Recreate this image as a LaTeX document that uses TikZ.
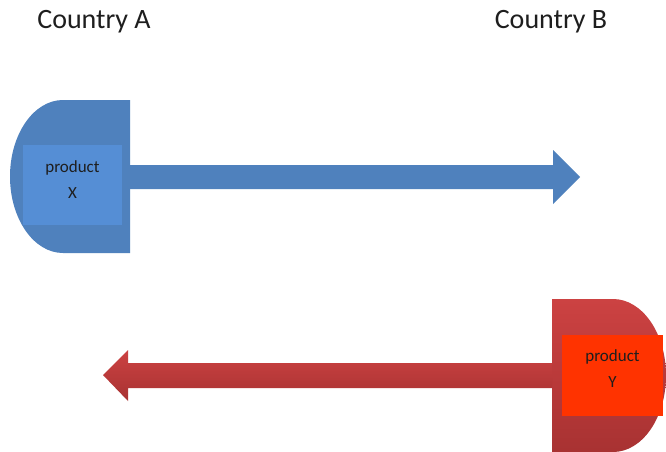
\documentclass[tikz,border=0pt]{standalone}
\usepackage{fontspec}
\setmainfont{Carlito}
\usetikzlibrary{calc}
\definecolor{bluedark}{HTML}{4F81BD}
\definecolor{bluelight}{HTML}{558ED5}
\definecolor{redtop}{HTML}{CC4242}
\definecolor{redbot}{HTML}{A83232}
\definecolor{redin}{HTML}{FF3300}
\definecolor{txt}{HTML}{1E1E1E}
\begin{document}
\begin{tikzpicture}[x=1pt,y=-1pt,
  title/.style={font=\fontsize{28}{30}\selectfont, text=txt, inner sep=0pt},
  prodbox/.style={inner sep=0pt, align=center, font=\fontsize{17}{26}\selectfont, text=txt},
  bluefill/.style={fill=bluedark},
  redfill/.style={top color=redtop, bottom color=redbot}]
\useasboundingbox (0,0) rectangle (666,452);
\fill[white] (0,0) rectangle (666,452);
% titles
\node[title] (cA) at (94,22) {Country A};
\node[title] (cB) at (551,22) {Country B};
% Country A shape
\path[bluefill] (130,100) -- (63,100) arc[start angle=-90, end angle=-270, x radius=53, y radius=76.5] -- (130,253) -- cycle;
\node[prodbox, fill=bluelight, minimum width=99pt, minimum height=80pt] (prodX) at (72.5,185) {};
\node[prodbox] (lblX) at (72.5,180) {product\\X};
% Country B shape
\path[redfill] (552,299) -- (613,299) arc[start angle=-90, end angle=90, x radius=53, y radius=76.5] -- (552,452) -- cycle;
\node[prodbox, fill=redin, minimum width=101pt, minimum height=81pt] (prodY) at (612.5,375.5) {};
\node[prodbox] (lblY) at (612.5,369) {product\\Y};
% arrow coordinates
\coordinate (srcA) at (130,177);
\coordinate (tipB) at (580,177);
\coordinate (srcB) at (552,375);
\coordinate (tipA) at (103,375);
% blue arrow
\path[bluefill] ($(srcA)+(0,-12)$) -- ($(tipB)+(-27,-12)$) -- ($(tipB)+(-27,-27)$) -- (tipB) -- ($(tipB)+(-27,27)$) -- ($(tipB)+(-27,12)$) -- ($(srcA)+(0,12)$) -- cycle;
% red arrow
\path[redfill] ($(srcB)+(0,-12)$) -- ($(tipA)+(25,-12)$) -- ($(tipA)+(25,-25)$) -- (tipA) -- ($(tipA)+(25,26)$) -- ($(tipA)+(25,13)$) -- ($(srcB)+(0,13)$) -- cycle;
\end{tikzpicture}
\end{document}
